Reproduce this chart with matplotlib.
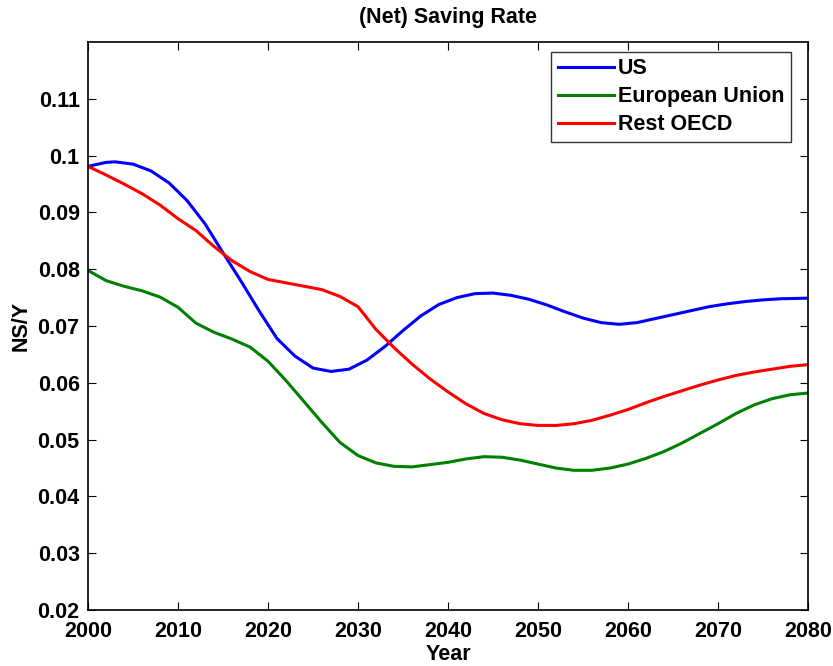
import matplotlib
matplotlib.use('Agg')
import matplotlib.pyplot as plt

# Data
us_years = [2000, 2002, 2003, 2005, 2007, 2009, 2011, 2013, 2015, 2017, 2019, 2021,
            2023, 2025, 2027, 2029, 2031, 2033, 2035, 2037, 2039, 2041, 2043, 2045,
            2047, 2049, 2051, 2053, 2055, 2057, 2059, 2061, 2063, 2065, 2067, 2069,
            2071, 2073, 2075, 2077, 2080]
us_vals = [0.0981, 0.0988, 0.0989, 0.0985, 0.0973, 0.0952, 0.0921, 0.0880, 0.0829, 0.0779,
           0.0727, 0.0678, 0.0647, 0.0626, 0.0620, 0.0624, 0.0640, 0.0664, 0.0692, 0.0718,
           0.0738, 0.0750, 0.0757, 0.0758, 0.0754, 0.0747, 0.0737, 0.0725, 0.0714, 0.0706,
           0.0703, 0.0706, 0.0713, 0.0720, 0.0727, 0.0734, 0.0739, 0.0743, 0.0746, 0.0748,
           0.0749]

eu_years = list(range(2000, 2081, 2))
eu_vals = [0.0798, 0.0780, 0.0770, 0.0762, 0.0751, 0.0733, 0.0705, 0.0689, 0.0677, 0.0663,
           0.0638, 0.0604, 0.0567, 0.0530, 0.0495, 0.0472, 0.0459, 0.0453, 0.0452, 0.0456,
           0.0460, 0.0466, 0.0470, 0.0469, 0.0464, 0.0457, 0.0450, 0.0446, 0.0446, 0.0450,
           0.0457, 0.0467, 0.0479, 0.0494, 0.0511, 0.0528, 0.0546, 0.0561, 0.0572, 0.0579,
           0.0582]

oecd_years = list(range(2000, 2081, 2))
oecd_vals = [0.0981, 0.0966, 0.0950, 0.0933, 0.0913, 0.0889, 0.0868, 0.0840, 0.0815, 0.0796,
             0.0782, 0.0776, 0.0770, 0.0764, 0.0752, 0.0734, 0.0694, 0.0662, 0.0633, 0.0607,
             0.0584, 0.0563, 0.0546, 0.0535, 0.0528, 0.0525, 0.0525, 0.0528, 0.0534, 0.0543,
             0.0553, 0.0565, 0.0576, 0.0586, 0.0596, 0.0605, 0.0613, 0.0619, 0.0624, 0.0629,
             0.0632]

yticks = [0.02, 0.03, 0.04, 0.05, 0.06, 0.07, 0.08, 0.09, 0.1, 0.11]
ytick_labels = ['0.02', '0.03', '0.04', '0.05', '0.06', '0.07', '0.08', '0.09', '0.1', '0.11']
xticks = list(range(2000, 2081, 10))

FS = 15.5

plt.rcParams['font.family'] = ['Liberation Sans', 'DejaVu Sans']
plt.rcParams['font.weight'] = 'bold'

fig = plt.figure(figsize=(8.33, 6.66), dpi=100)
ax = fig.add_axes([0.1056, 0.084, 0.8644, 0.853])

ax.plot(us_years, us_vals, color=(0, 0, 1), linewidth=2.2, label='US')
ax.plot(eu_years, eu_vals, color=(0, 0.5, 0), linewidth=2.2, label='European Union')
ax.plot(oecd_years, oecd_vals, color=(1, 0, 0), linewidth=2.2, label='Rest OECD')

ax.set_xlim(2000, 2080)
ax.set_ylim(0.02, 0.12)
ax.set_xticks(xticks)
ax.set_yticks(yticks)
ax.set_yticklabels(ytick_labels)
ax.tick_params(direction='in', length=6, width=0.8, top=True, right=True,
               labelsize=FS)
ax.tick_params(axis='x', pad=8)
ax.tick_params(axis='y', pad=6)
for lbl in ax.get_xticklabels() + ax.get_yticklabels():
    lbl.set_fontweight('bold')
for sp in ax.spines.values():
    sp.set_linewidth(1.2)

ax.set_title('(Net) Saving Rate', fontsize=FS, fontweight='bold', pad=14)
ax.set_xlabel('Year', fontsize=FS, fontweight='bold', labelpad=1)
ax.set_ylabel('NS/Y', fontsize=FS, fontweight='bold', labelpad=4)

leg = ax.legend(loc='upper right', fontsize=FS, frameon=True, fancybox=False,
                edgecolor='black', handlelength=2.6, borderpad=0.3,
                labelspacing=0.32, handletextpad=0.2, borderaxespad=0,
                bbox_to_anchor=(0.9764, 0.9824))
leg.get_frame().set_linewidth(1.0)
for t in leg.get_texts():
    t.set_fontweight('bold')

fig.savefig('out.png', dpi=100)
